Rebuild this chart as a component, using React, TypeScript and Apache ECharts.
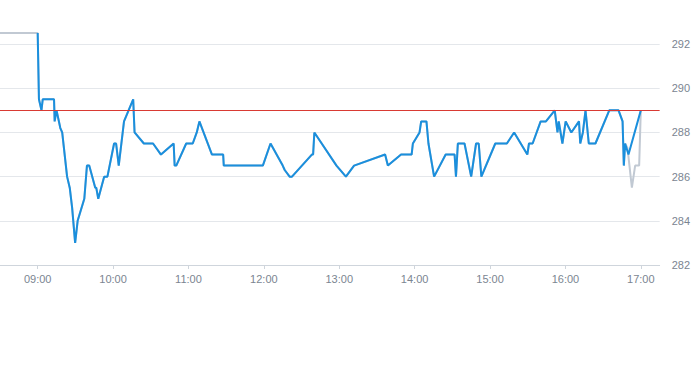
import React, { useEffect, useRef } from "react";
import * as echarts from "echarts";

// minutes since midnight
const xTicks = [540, 600, 660, 720, 780, 840, 900, 960, 1020];
const yTicks = [282, 284, 286, 288, 290, 292];
const refLevel = 289;

// main (blue) series: minutes after 09:00, price
const blueTimes = [
  0, 1, 3, 4, 13, 13.5, 15, 18, 19.5, 23.4, 25.5, 27.4, 29.8, 31.8, 37.1, 39.2, 41, 45.8, 46.6, 48.2,
  52.9, 55.5, 60.8, 62.4, 64.5, 68.7, 76, 77.1, 84.5, 91.8, 98.1, 108.2, 109, 110.3, 118.2, 123.4,
  126.6, 128.7, 138.7, 147.6, 148.1, 179.2, 185.3, 195, 196.6, 200.5, 202.4, 218.2, 219.2, 220.2,
  237.8, 245.3, 251.8, 276.5, 278.7, 289.2, 297.6, 298.6, 303.9, 305.2, 309.4, 311, 315.5, 324.7,
  331.8, 332.9, 334.4, 339.7, 345, 348.9, 351, 353.1, 364.2, 373.4, 379.2, 389.7, 391, 393.9, 400.3,
  404.5, 411.5, 413.7, 414.7, 417.6, 420.2, 424.7, 430.8, 431.8, 433.9, 436, 438.6, 443.9, 454.9,
  462.3, 465.5, 466.5, 467.5, 470.2, 480,
];
const blueValues = [
  292.5, 289.5, 289, 289.5, 289.5, 288.5, 289, 288.2, 288, 286, 285.5, 284.6, 283, 284, 285, 286.5, 286.5, 285.5, 285.5, 285,
  286, 286, 287.5, 287.5, 286.5, 288.5, 289.5, 288, 287.5, 287.5, 287, 287.5, 286.5, 286.5, 287.5, 287.5,
  288, 288.5, 287, 287, 286.5, 286.5, 287.5, 286.5, 286.3, 286, 286, 287, 287, 288,
  286.5, 286, 286.5, 287, 286.5, 287, 287, 287.5, 288, 288.5, 288.5, 287.5, 286, 287,
  287, 286, 287.5, 287.5, 286, 287.5, 287.5, 286, 287.5, 287.5, 288, 287, 287.5, 287.5, 288.5,
  288.5, 289, 288, 288.5, 287.5, 288.5, 288, 288.5, 287.5, 288, 289, 287.5, 287.5, 289,
  289, 288.5, 286.5, 287.5, 287, 289,
];

// grey series: pre-open part and its own closing path
const greyPreTimes = [-30, 0];
const greyPreValues = [292.5, 292.5];
const greyEndTimes = [467.5, 469.4, 472.9, 475.5, 478.7, 480];
const greyEndValues = [287.5, 287.3, 285.5, 286.5, 286.5, 289];

const BASE = 540; // 09:00

function pad(n: number) {
  return n < 10 ? "0" + n : "" + n;
}

export default function App() {
  const ref = useRef<HTMLDivElement>(null);

  useEffect(() => {
    if (!ref.current) return;
    const chart = echarts.init(ref.current, undefined, { renderer: "svg" });

    const blue = blueTimes.map((t, i) => [BASE + t, blueValues[i]]);
    const greyMain = blueTimes
      .map((t, i) => [t, blueValues[i]])
      .filter((p) => p[0] <= 467.5)
      .map((p) => [BASE + p[0], p[1]]);
    const grey = [
      ...greyPreTimes.map((t, i) => [BASE + t, greyPreValues[i]]),
      ...greyMain.slice(1),
      ...greyEndTimes.slice(1).map((t, i) => [BASE + t, greyEndValues[i + 1]]),
    ];

    const labelFont = {
      color: "#7b8591",
      fontSize: 11,
      fontFamily: "Liberation Sans, Arial, sans-serif",
    };

    chart.setOption({
      animation: false,
      grid: { left: 0, right: 29, top: 22, bottom: 100, containLabel: false },
      xAxis: {
        type: "value",
        min: 510,
        max: 1035,
        axisLine: { show: true, lineStyle: { color: "#cfd5dc", width: 1 } },
        axisTick: {
          show: true,
          customValues: xTicks,
          length: 4,
          lineStyle: { color: "#cfd5dc" },
        },
        axisLabel: {
          ...labelFont,
          customValues: xTicks,
          margin: 8,
          formatter: (v: number) => pad(Math.floor(v / 60)) + ":" + pad(v % 60),
        },
        splitLine: { show: false },
      },
      yAxis: {
        type: "value",
        position: "right",
        min: 282,
        max: 293,
        interval: 2,
        axisLine: { show: false },
        axisTick: { show: false },
        axisLabel: {
          ...labelFont,
          margin: 12,
          formatter: (v: number) => (yTicks.indexOf(v) >= 0 ? String(v) : ""),
        },
        splitLine: {
          show: true,
          showMaxLine: false,
          lineStyle: { color: "#e4e7eb", width: 1 },
        },
      },
      series: [
        {
          type: "line",
          data: grey,
          symbol: "none",
          lineStyle: { color: "#c1c9d3", width: 2 },
          z: 2,
          silent: true,
        },
        {
          type: "line",
          data: blue,
          symbol: "none",
          lineStyle: { color: "#1a8fdd", width: 2 },
          z: 3,
          silent: true,
          markLine: {
            silent: true,
            symbol: "none",
            label: { show: false },
            lineStyle: { color: "#d93a33", width: 1, type: "solid" },
            data: [{ yAxis: refLevel }],
          },
        },
      ],
    });

    return () => chart.dispose();
  }, []);

  return (
    <div
      ref={ref}
      style={{ position: "absolute", left: 0, top: 0, width: 693, height: 365 }}
    />
  );
}
